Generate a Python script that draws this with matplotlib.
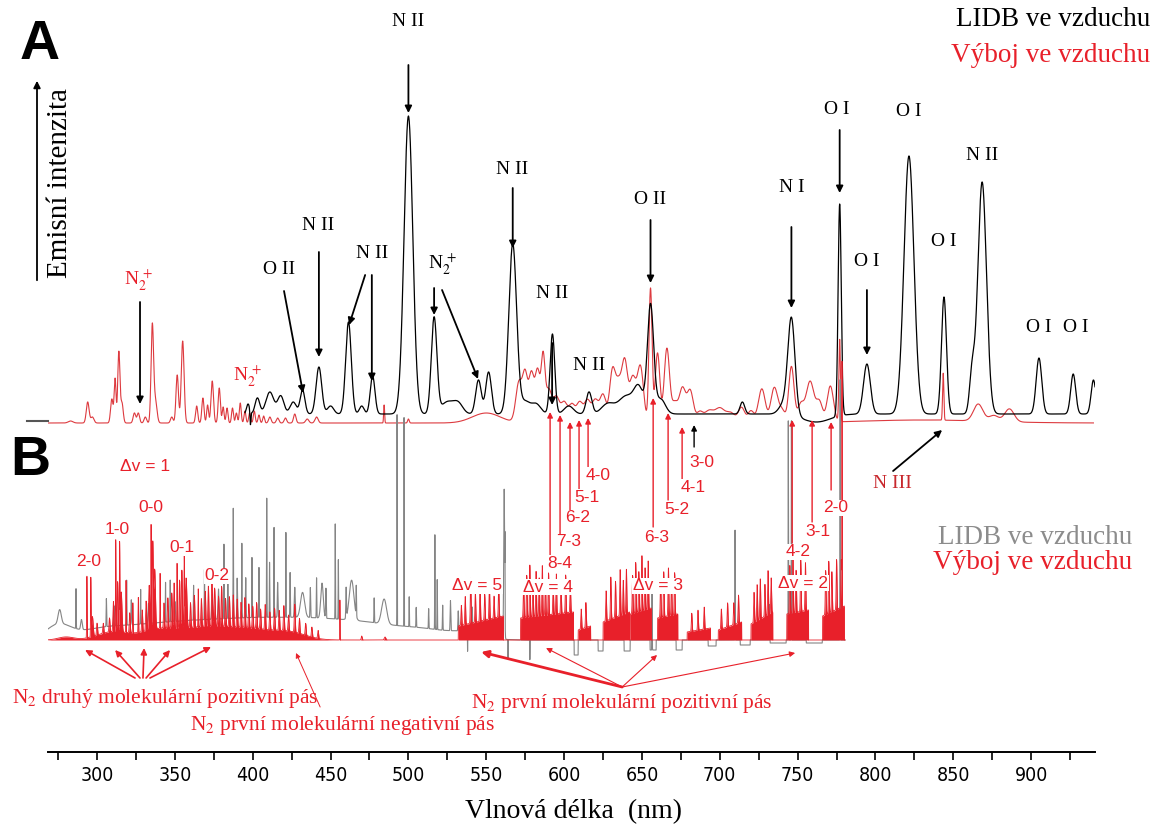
import numpy as np
import matplotlib
matplotlib.use("Agg")
import matplotlib.pyplot as plt
from matplotlib.lines import Line2D
from matplotlib.patches import FancyArrowPatch

plt.rcParams["font.family"] = ["Liberation Serif", "DejaVu Serif"]
plt.rcParams["mathtext.fontset"] = "stix"

# ---------------------------------------------------------------- data
# A: LIDB in air (black) - line centre [nm], height [a.u.], gaussian width [nm]
LIDB_A_NM = [397, 398.5, 403, 411, 418, 426, 432, 442.5, 450, 461.5, 470, 477,
             500, 516.5, 525, 532, 545, 551.5, 567, 575, 582, 592.5, 603, 616,
             628, 640, 648, 655.5, 662, 714.5, 741, 746, 762, 777, 794.5,
             821.5, 844, 862, 868.5, 905, 927, 940]
LIDB_A_HEIGHT = [10, -14, 16, 22, 18, 12, 24, 47, 8, 92, 8, 38,
                 298, 96, 12, 10, 34, 42, 170, 12, 10, 80, 8, 22,
                 10, 18, 24, 108, 15, 12, 10, 96, -8, 212, 50,
                 258, 117, 38, 232, 56, 40, 34]
LIDB_A_WIDTH = [1.0, 0.3, 1.5, 2.5, 2.0, 2.0, 1.5, 1.8, 2.0, 1.8, 1.5, 1.5,
                2.8, 1.8, 4.0, 3.0, 1.8, 1.8, 2.5, 3.0, 3.0, 1.5, 3.0, 1.8,
                4.0, 5.0, 3.0, 2.0, 3.0, 1.5, 3.0, 2.3, 9.0, 1.0, 2.2,
                3.2, 1.6, 1.6, 2.8, 1.8, 1.6, 1.5]
LIDB_A_LEVEL = 9

# A: discharge in air (red)
DISCH_A_NM = [283, 294, 297, 309.5, 311.6, 314, 316, 324, 326.5, 331, 335.5,
              337.5, 348, 351.5, 355, 364, 368, 371, 374, 378.5, 381, 383.5,
              387, 389.5, 392, 395, 398, 401, 404, 407, 411, 416, 421, 427,
              435, 441, 484.4, 500, 550, 571, 575, 579, 583, 586.5, 590, 595,
              600, 605, 610, 615, 620, 625, 631, 635, 639, 644, 649, 655.5,
              660, 666, 671, 676, 681, 687, 693, 700, 707, 714, 720, 727, 735,
              740, 746, 752, 758, 764, 771, 777, 830, 843.5, 866, 876, 886]
DISCH_A_HEIGHT = [2, 21, 6, 24, 44, 71, 20, 10, 10, 6, 97,
                  22, 6, 48, 82, 17, 25, 18, 42, 35, 16, 15,
                  15, 10, 20, 12, 10, 12, 8, 7, 6, 5, 5, 9,
                  4, 6, 18, 4, 10, 40, 46, 48, 52, 60, 33, 25,
                  20, 18, 20, 22, 22, 28, 50, 38, 58, 44, 56, 134,
                  70, 74, 20, 34, 32, 10, 12, 14, 10, 15, 12, 34, 35,
                  12, 56, 18, 41, 20, 36, 82, 3, 47, 17, 6, 13]
DISCH_A_WIDTH = [1.5, 0.9, 1.0, 0.8, 0.6, 0.7, 0.8, 0.8, 0.8, 0.8, 0.8,
                 1.0, 0.8, 0.8, 0.9, 0.7, 0.7, 0.6, 0.8, 0.7, 0.6, 0.6,
                 0.6, 0.6, 0.6, 0.6, 0.6, 0.6, 0.6, 0.6, 0.8, 0.8, 0.8, 0.8,
                 1.0, 1.0, 0.3, 0.5, 9.0, 2.0, 1.6, 1.6, 1.6, 1.2, 2.0, 2.0,
                 2.0, 2.0, 2.0, 2.0, 2.0, 2.0, 1.8, 2.0, 1.8, 2.0, 2.0, 1.0,
                 1.5, 1.7, 2.0, 2.0, 2.0, 2.0, 3.0, 3.0, 3.0, 2.0, 2.0, 2.2, 2.2,
                 2.0, 1.7, 2.0, 2.5, 2.0, 2.0, 0.5, 40.0, 0.4, 3.0, 3.0, 3.0]

# B: LIDB in air (grey), high resolution
LIDB_B_NM = [275, 300, 330, 365, 400, 435, 470, 510, 540,
             276, 286.5, 290, 306, 311, 319, 322, 328, 333, 344, 347, 350, 362,
             369, 374, 378, 381.5, 384, 387.5, 390, 393, 395.5, 399.5, 404,
             409, 410.8, 413.7, 416, 421.3, 424, 427, 432, 437, 441, 444.5,
             447, 453, 455, 460, 463.5, 466.5, 478, 484.4, 492.7, 497.2, 500.5,
             505, 513, 517, 518.5, 522, 527, 532, 538, 541, 561.5, 562.0, 564,
             578, 656.5, 709.8, 731.7, 744, 746, 777.3]
LIDB_B_HEIGHT = [14, 8, 12, 14, 16, 16, 14, 10, 5,
                 14, 40, 10, 28, 20, 45, 25, 35, 20, 40, 42, 20, 35,
                 50, 25, 30, 75, 45, 110, 40, 75, 40, 60, 50,
                 120, 55, 90, 35, 85, 45, 30, 25, 30, 40, 35,
                 30, 95, 60, 30, 40, 30, 25, 25, 213, 213, 30,
                 20, 20, 95, 50, 25, 30, 20, -20, 25, 150, 70, -20,
                 -20, 70, 110, 36, 220, 220, 262]
LIDB_B_WIDTH = [8, 15, 20, 20, 20, 20, 20, 20, 10,
                1.0, 0.12, 0.5, 0.15, 0.3, 0.12, 0.2, 0.12, 0.3, 0.12, 0.12, 0.3, 0.12,
                0.12, 0.3, 0.3, 0.12, 0.12, 0.12, 0.2, 0.12, 0.2, 0.12, 0.12,
                0.12, 0.12, 0.12, 0.2, 0.12, 0.15, 0.3, 1.3, 0.2, 0.15, 0.8,
                0.2, 0.12, 0.12, 0.2, 1.5, 0.15, 0.15, 1.6, 0.08, 0.08, 0.12,
                0.15, 0.15, 0.12, 0.12, 0.15, 0.2, 0.2, 0.08, 0.15, 0.3, 0.06, 0.08,
                0.08, 0.1, 0.1, 0.1, 0.1, 0.1, 0.12]
# grey steps below the baseline between the first-positive band groups
LIDB_B_STEP_START = [606.4, 621.8, 638.5, 655.2, 671.9, 692.5, 713.1, 732.3, 755.5]
LIDB_B_STEP_END = [609.0, 625.0, 642.4, 659.1, 675.8, 697.6, 719.5, 742.6, 765.8]
LIDB_B_STEP_DEPTH = [15, 11, 11, 10, 10, 6, 5, 3, 3]

# B: discharge in air (red), second positive / first negative region
DISCH_B_NM = [280, 310, 340, 370, 400, 425,
              293.5, 296, 297, 300, 304, 308, 310.5, 312, 313.2, 314.5, 315.5,
              318.6, 321, 323, 326.5, 329, 331.5, 333.5, 334.7, 335.8, 337,
              340.5, 343, 345.5, 348, 349.5, 351.4, 353, 354.5, 356, 357.2, 360,
              362.5, 365, 367, 369.5, 371.5, 373.8, 375.5, 378, 380, 382.5, 385,
              387.5, 390, 392.5, 395, 397.5, 400, 402.5, 405, 408, 411, 414,
              417, 420, 423, 427, 430, 434, 438, 442, 456, 470, 485, 778.5]
DISCH_B_HEIGHT = [3, 8, 10, 12, 10, 6,
                  62, 57, 20, 12, 10, 14, 30, 92, 50, 85, 40,
                  52, 20, 30, 35, 22, 30, 45, 105, 85, 60,
                  55, 25, 30, 35, 45, 65, 48, 58, 70, 50, 25,
                  32, 38, 28, 35, 40, 48, 38, 30, 40, 28, 30,
                  32, 28, 25, 30, 24, 22, 26, 20, 25, 18, 22,
                  20, 25, 16, 28, 15, 12, 10, 8, 40, 4, 3, 240]
DISCH_B_WIDTH = [5, 10, 12, 15, 15, 10,
                 0.15, 0.15, 0.5, 0.3, 0.3, 0.3, 0.3, 0.15, 0.3, 0.15, 0.5,
                 0.12, 0.3, 0.15, 0.15, 0.3, 0.3, 0.4, 0.12, 0.3, 0.5,
                 0.12, 0.3, 0.3, 0.3, 0.3, 0.15, 0.3, 0.3, 0.2, 0.5, 0.3,
                 0.3, 0.15, 0.3, 0.3, 0.3, 0.3, 0.4, 0.3, 0.3, 0.3, 0.3,
                 0.3, 0.3, 0.3, 0.3, 0.3, 0.3, 0.3, 0.3, 0.3, 0.3, 0.3,
                 0.3, 0.3, 0.3, 0.3, 0.3, 0.3, 0.3, 0.3, 0.1, 0.3, 0.5, 0.1]
# first positive system band groups: start, end, level at the violet and red end
BAND_START = [532, 572, 609, 625, 642.5, 660, 679, 699, 720, 743, 766]
BAND_END = [561, 606, 617, 642, 656, 673, 694, 714, 734, 757, 780]
BAND_LEVEL_BLUE = [14, 22, 10, 18, 26, 22, 8, 10, 16, 26, 24]
BAND_LEVEL_RED = [24, 28, 14, 28, 32, 26, 12, 18, 28, 30, 34]
BAND_LINE_NM = [534, 536.5, 540, 543, 546, 549, 552, 555, 558,
                574, 576, 578, 580, 582, 584, 586, 588, 590, 593, 595, 598, 601, 604,
                611, 614, 627, 630, 633, 636, 638, 640, 644, 646, 648, 650, 652, 654,
                662, 664, 667, 669, 671, 682, 686, 690, 701, 705, 709, 712,
                722, 724, 726, 729, 731, 733, 745, 747, 749, 752, 755, 768, 770,
                772, 775, 778]
BAND_LINE_HEIGHT = [20, 28, 45, 30, 38, 26, 35, 22, 30,
                    35, 42, 52, 36, 45, 38, 50, 35, 42, 30, 40, 33, 38, 28,
                    20, 25, 30, 42, 36, 46, 34, 44, 38, 50, 40, 55, 42, 48,
                    38, 45, 48, 36, 42, 18, 20, 22, 20, 24, 22, 28,
                    30, 36, 40, 32, 44, 35, 48, 55, 42, 52, 48, 44, 52,
                    40, 50, 48]

TICKS = list(range(300, 901, 50))

# ---------------------------------------------------------------- layout
BASE_A = 407   # baseline of panel A
BASE_B = 190   # baseline of panel B
AXIS_Y = 78    # position of the wavelength axis

RED = "#e8202a"
RED_A = "#dd3a3f"
GREY = "#858585"


def lines(x, centres, heights, widths):
    y = np.zeros_like(x)
    for c, h, w in zip(centres, heights, widths):
        y += h * np.exp(-0.5 * ((x - c) / w) ** 2)
    return y


wl = np.linspace(268.5, 941, 20001)

lidb_a = lines(wl, LIDB_A_NM, LIDB_A_HEIGHT, LIDB_A_WIDTH) + LIDB_A_LEVEL
lidb_a[wl < 395] = np.nan
disch_a = lines(wl, DISCH_A_NM, DISCH_A_HEIGHT, DISCH_A_WIDTH)
disch_a[wl > 940] = np.nan

in_b = wl <= 780.5
lidb_b = lines(wl, LIDB_B_NM, LIDB_B_HEIGHT, LIDB_B_WIDTH)
for s, e, d in zip(LIDB_B_STEP_START, LIDB_B_STEP_END, LIDB_B_STEP_DEPTH):
    lidb_b[(wl >= s) & (wl <= e)] -= d
disch_b = lines(wl, DISCH_B_NM, DISCH_B_HEIGHT, DISCH_B_WIDTH)
for s, e, lo, hi in zip(BAND_START, BAND_END, BAND_LEVEL_BLUE, BAND_LEVEL_RED):
    band = (wl >= s) & (wl <= e)
    disch_b[band] += lo + (hi - lo) * (wl[band] - s) / (e - s)
disch_b += lines(wl, BAND_LINE_NM, BAND_LINE_HEIGHT, [0.25] * len(BAND_LINE_NM))

fig = plt.figure(figsize=(11.61, 8.30), dpi=100)
ax = fig.add_axes([48 / 1161, 0, 1047 / 1161, 1])
ax.set_xlim(268.5, 941)
ax.set_ylim(0, 830)

# panel A
ax.plot(wl, BASE_A + disch_a, color=RED_A, lw=0.8, zorder=2)
ax.plot(wl, BASE_A + lidb_a, color="black", lw=0.9, zorder=3)

# panel B
ax.plot(wl[in_b], BASE_B + lidb_b[in_b], color=GREY, lw=0.8, zorder=2)
ax.fill_between(wl[in_b], BASE_B, BASE_B + disch_b[in_b], color=RED, lw=0, zorder=3)
ax.plot(wl[in_b], BASE_B + disch_b[in_b], color=RED, lw=0.6, zorder=3)

# axis
for side in ("left", "right", "top"):
    ax.spines[side].set_visible(False)
ax.spines["bottom"].set_position(("data", AXIS_Y))
ax.spines["bottom"].set_linewidth(1.4)
ax.set_yticks([])
ax.set_xticks(TICKS)
ax.set_xticklabels([str(t) for t in TICKS], fontfamily="DejaVu Sans",
                   fontstretch="condensed", fontsize=14)
ax.set_xticks([t + 25 for t in TICKS] + [275], minor=True)
ax.tick_params(axis="x", which="both", direction="out", length=6, width=1.2, pad=4)

fig.text(0.494, 0.022, "Vlnová délka  (nm)", fontsize=20, ha="center", va="center")
fig.text(0.0517, 0.78, "Emisní intenzita", fontsize=21, rotation=90, ha="center", va="center")
fig.add_artist(FancyArrowPatch((37 / 1161, 547 / 830), (37 / 1161, 752 / 830),
                               transform=fig.transFigure, arrowstyle="-|>",
                               mutation_scale=10, lw=1.3, color="black"))
fig.add_artist(Line2D([27 / 1161, 48 / 1161], [409 / 830, 409 / 830], color="#555555", lw=1.5))

fig.text(0.0345, 0.946, "A", fontsize=40, fontweight="bold", fontfamily="Liberation Sans",
         ha="center", va="center")
fig.text(0.0258, 0.4446, "B", fontsize=40, fontweight="bold", fontfamily="Liberation Sans",
         ha="center", va="center")

fig.text(1150 / 1161, 810 / 830, "LIDB ve vzduchu", fontsize=19.5, color="black",
         ha="right", va="center")
fig.text(1150 / 1161, 775 / 830, "Výboj ve vzduchu", fontsize=19.5, color=RED,
         ha="right", va="center")
fig.text(1132 / 1161, 293 / 830, "LIDB ve vzduchu", fontsize=19.5, color="#8c8c8c",
         ha="right", va="center")
fig.text(1132 / 1161, 268 / 830, "Výboj ve vzduchu", fontsize=19.5, color=RED,
         ha="right", va="center")


def arrow(x0, y0, x1, y1, color="black", lw=1.3, scale=10):
    ax.annotate("", xy=(x1, y1), xytext=(x0, y0), annotation_clip=False,
                arrowprops=dict(arrowstyle="-|>", color=color, lw=lw,
                                mutation_scale=scale, shrinkA=0, shrinkB=0))


N2P = r"N$_2^{\,+}$"

# species labels in panel A
species = [
    ("N II", 500, 808), ("N II", 566.6, 660), ("N II", 592.3, 537), ("N II", 616, 465),
    ("O II", 655.2, 630), ("O II", 416.9, 561), ("N II", 442, 605), ("N II", 476.7, 577),
    ("N I", 746.5, 643), ("O I", 775.4, 720), ("O I", 821.6, 718), ("O I", 794.6, 568),
    ("O I", 844.1, 588), ("N II", 868.5, 674), ("O I", 905.1, 502), ("O I", 928.9, 502),
]
for txt, x, y in species:
    ax.text(x, y, txt, fontsize=14, ha="center", va="center", zorder=5)
ax.text(521.6, 567, N2P, fontsize=14, ha="center", va="center")
ax.text(326.3, 550, N2P, fontsize=14, color=RED, ha="center", va="center")
ax.text(396.4, 455, N2P, fontsize=14, color=RED, ha="center", va="center")

for x0, y0, x1, y1 in [
    (500, 765, 500, 717), (567, 642, 567, 582), (516.5, 542, 516.5, 515),
    (521.6, 540, 544.7, 451), (592.3, 487, 592.3, 425), (655.5, 610, 655.5, 547),
    (420.1, 539, 432.3, 437), (442.5, 578, 442.5, 473), (472.2, 555, 461.9, 505),
    (476.5, 555, 476.5, 449), (327.6, 528, 327.6, 426), (746, 603, 746, 522),
    (777, 700, 777, 637), (794.5, 540, 794.5, 475),
]:
    arrow(x0, y0, x1, y1)

ax.text(810.7, 347, "N III", fontsize=14, color="#c8282d", ha="center", va="center")
arrow(811.3, 359, 842.8, 400)

# vibrational band labels
sans = ["Liberation Sans", "DejaVu Sans"]
bands = [
    ("8-4", 591.0, 418, 273, 597.4, 267), ("7-3", 597.4, 415, 295, 603.2, 288),
    ("6-2", 603.8, 408, 317, 609.0, 312), ("5-1", 609.6, 410, 340, 614.8, 333),
    ("4-0", 615.4, 412, 363, 621.8, 355), ("6-3", 657.2, 432, 303, 659.7, 293),
    ("5-2", 666.8, 417, 330, 672.6, 320), ("4-1", 675.8, 403, 350, 682.6, 343),
    ("4-2", 746.5, 410, 287, 750.3, 278), ("3-1", 759.3, 410, 308, 763.2, 298),
    ("2-0", 771.5, 408, 340, 774.1, 322),
]
for txt, x, yh, yt, tx, ty in bands:
    arrow(x, yt, x, yh, color=RED, lw=1.0, scale=8)
    ax.text(tx, ty, txt, fontsize=12.5, color=RED, fontfamily=sans, ha="center",
            va="center", zorder=6, bbox=dict(fc="white", ec="none", pad=0.5))
arrow(683.5, 383, 683.5, 405, lw=1.0, scale=8)
ax.text(688.6, 368, "3-0", fontsize=12.5, color=RED, fontfamily=sans, ha="center", va="center")

for txt, x, y in [("Δv = 1", 330.8, 364), ("2-0", 294.9, 268), ("1-0", 312.8, 300),
                  ("0-0", 334.7, 323), ("0-1", 354.6, 282), ("0-2", 377.1, 254),
                  ("Δv = 5", 544.1, 244), ("Δv = 4", 589.7, 243), ("Δv = 3", 660.4, 244),
                  ("Δv = 2", 753.5, 247)]:
    ax.text(x, y, txt, fontsize=12.5, color=RED, fontfamily=sans, ha="center", va="center",
            zorder=6, bbox=dict(fc="white", ec="none", pad=0.5))

# band system labels under panel B
ax.text(343.7, 132, r"N$_2$ druhý molekulární pozitivní pás", fontsize=15.5, color=RED,
        ha="center", va="center")
ax.text(457.4, 105, r"N$_2$ první molekulární negativní pás", fontsize=15.5, color=RED,
        ha="center", va="center")
ax.text(637.3, 127, r"N$_2$ první molekulární pozitivní pás", fontsize=15.5, color=RED,
        ha="center", va="center")
for xt, xh, yh in [(324.4, 292.3, 180), (327.6, 311.6, 180), (329.5, 330.2, 182),
                   (331.5, 346.9, 180), (334.0, 373.2, 183)]:
    arrow(xt, 152, xh, yh, color=RED, lw=1.2, scale=9)
arrow(443.3, 123, 427.8, 177, color=RED, lw=0.7, scale=7)
arrow(637.3, 143, 546.7, 178, color=RED, lw=2.0, scale=10)
for xh, yh in [(588.4, 182), (659.7, 175), (748.4, 177)]:
    arrow(637.3, 143, xh, yh, color=RED, lw=0.8, scale=8)

fig.savefig("out.png", dpi=100)
